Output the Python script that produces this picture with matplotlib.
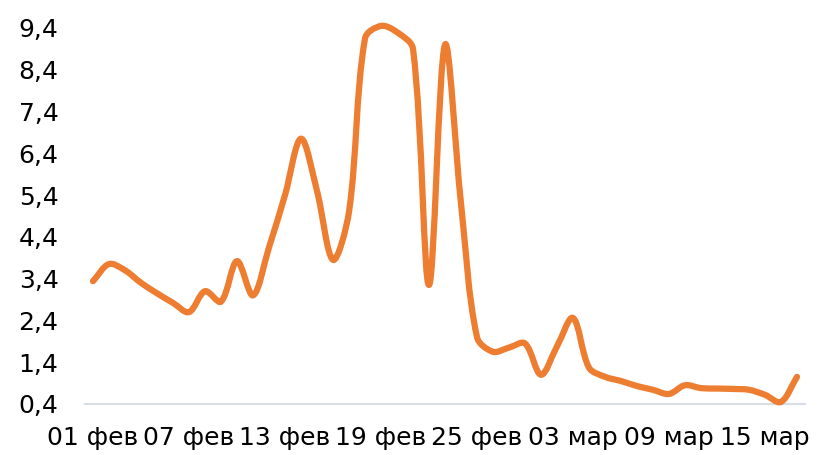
import numpy as np
import pandas as pd
import matplotlib
matplotlib.use("Agg")
import matplotlib.pyplot as plt
import matplotlib.dates as mdates
from matplotlib.path import Path
from matplotlib.patches import PathPatch

# daily values, 01 Feb - 17 Mar
dates = pd.date_range("2022-02-01", "2022-03-17", freq="D")
values = [3.34, 3.75, 3.60, 3.30, 3.05, 2.82, 2.60, 3.10, 2.85, 3.82,
          3.00, 4.15, 5.40, 6.75, 5.50, 3.85, 5.00, 9.15, 9.45, 9.30,
          8.90, 3.25, 9.00, 5.20, 2.00, 1.65, 1.75, 1.85, 1.10, 1.78,
          2.46, 1.27, 1.05, 0.95, 0.83, 0.74, 0.64, 0.85, 0.78, 0.77,
          0.76, 0.74, 0.62, 0.45, 1.05]
tick_dates = pd.date_range("2022-02-01", "2022-03-15", freq="6D")
tick_labels = ["01 фев", "07 фев", "13 фев", "19 фев", "25 фев",
               "03 мар", "09 мар", "15 мар"]
yticks = [0.4, 1.4, 2.4, 3.4, 4.4, 5.4, 6.4, 7.4, 8.4, 9.4]

line_color = "#ED7D31"


def smooth_path(x, y, sx, sy, t=1 / 3):
    # excel-like smoothed line: bezier segments, control points scaled
    # by neighbouring segment lengths (measured in pixels)
    x = np.asarray(x, float)
    y = np.asarray(y, float)
    n = len(x)
    c_in = [None] * n
    c_out = [None] * n
    for i in range(n):
        i0 = max(i - 1, 0)
        i2 = min(i + 1, n - 1)
        d01 = np.hypot((x[i] - x[i0]) * sx, (y[i] - y[i0]) * sy)
        d12 = np.hypot((x[i2] - x[i]) * sx, (y[i2] - y[i]) * sy)
        tot = d01 + d12 if d01 + d12 > 0 else 1
        fa = t * d01 / tot
        fb = t * d12 / tot
        dx, dy = x[i2] - x[i0], y[i2] - y[i0]
        c_in[i] = (x[i] - fa * dx, y[i] - fa * dy)
        c_out[i] = (x[i] + fb * dx, y[i] + fb * dy)
    verts = [(x[0], y[0])]
    codes = [Path.MOVETO]
    for i in range(n - 1):
        verts += [c_out[i], c_in[i + 1], (x[i + 1], y[i + 1])]
        codes += [Path.CURVE4] * 3
    return Path(verts, codes)


fig = plt.figure(figsize=(8.18, 4.55), dpi=100)
ax = fig.add_axes([85 / 818, 51 / 455, 720 / 818, 376 / 455])

xnum = mdates.date2num(dates)
ax.set_xlim(xnum[0] - 0.5, xnum[-1] + 0.5)
ax.set_ylim(0.4, 9.4)

px_per_day = 720 / (xnum[-1] - xnum[0] + 1)
px_per_unit = 376 / 9.0
ax.add_patch(PathPatch(smooth_path(xnum, values, px_per_day, px_per_unit),
                       fill=False, edgecolor=line_color, lw=4.5,
                       capstyle="round", joinstyle="round",
                       clip_on=False, zorder=3))

ax.set_xticks(mdates.date2num(tick_dates))
ax.set_xticklabels(tick_labels)
ax.set_yticks(yticks)
ax.set_yticklabels([str(t).replace(".", ",") for t in yticks])

for s in ["top", "right", "left"]:
    ax.spines[s].set_visible(False)
ax.spines["bottom"].set_color("#D9DEE6")
ax.spines["bottom"].set_linewidth(1.5)

ax.tick_params(axis="both", length=0, labelsize=18, colors="black")
ax.tick_params(axis="x", pad=16)
ax.tick_params(axis="y", pad=19)

fig.savefig("out.png", dpi=100)
